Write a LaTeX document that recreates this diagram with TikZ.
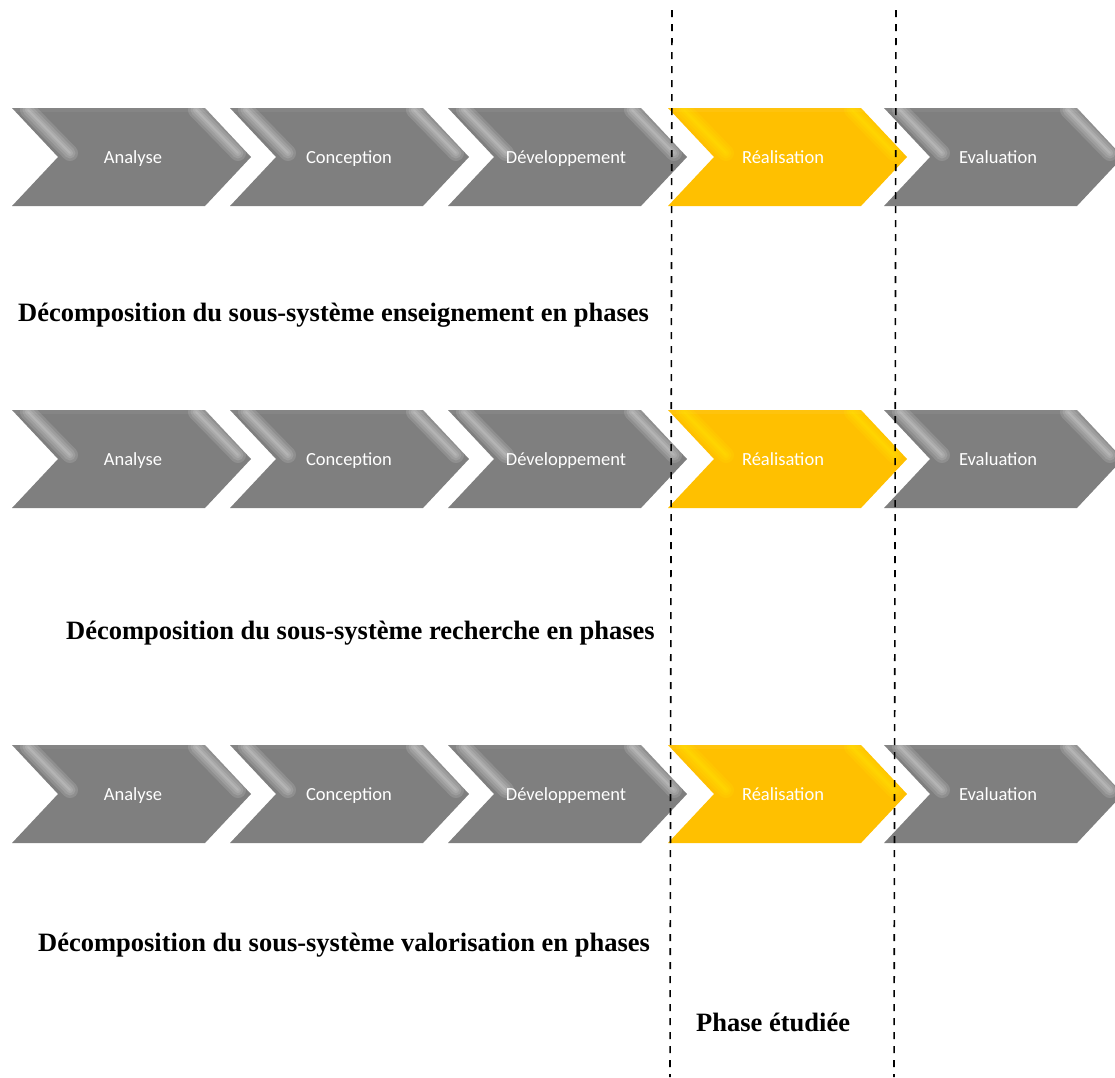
\documentclass[tikz,border=0pt]{standalone}
\usepackage{fontspec}
\newfontfamily\capfont{Liberation Serif}
\newfontfamily\lblfont{Carlito}
\definecolor{chgray}{HTML}{7F7F7F}
\definecolor{chyel}{HTML}{FFC000}
\definecolor{hlyel}{HTML}{FFF200}
\newcommand\mychev[4]{%
  \begin{scope}
    \path[fill=#3] ({#1},{#2-49}) -- ++(193,0) -- ++(46,49) -- ++(-46,49) -- ++(-193,0) -- ++(46,-49) -- cycle;
    \clip ({#1},{#2-49}) -- ++(193,0) -- ++(46,49) -- ++(-46,49) -- ++(-193,0) -- ++(46,-49) -- cycle;
    \fill[white,opacity=0.05] ({#1},{#2-49}) rectangle ({#1+240},{#2-45});
    \foreach \lw in {16,11,6,2}{
      \draw[#4,line width=\lw,opacity=0.13,line cap=round] ({#1+16},{#2-47}) -- ({#1+58},{#2-4});
      \draw[#4,line width=\lw,opacity=0.13,line cap=round] ({#1+184},{#2-47}) -- ({#1+226},{#2-4});
    }
  \end{scope}}
\begin{document}
\begin{tikzpicture}[x=1pt,y=-1pt,
  lbl/.style={text=white,font=\lblfont\fontsize{18.5}{20}\selectfont,inner sep=0pt,anchor=base},
  captxt/.style={font=\capfont\bfseries\fontsize{26.5}{30}\selectfont,inner sep=0pt,anchor=base west},
  guide/.style={black,line width=1.6pt,dash pattern=on 7pt off 7pt}]
\useasboundingbox (0,0) rectangle (1115,1077);
\clip (0,0) rectangle (1115,1077);
\foreach \ry/\rn in {157/1,459/2,794/3}{
  \mychev{12}{\ry}{chgray}{white}
  \mychev{230}{\ry}{chgray}{white}
  \mychev{448}{\ry}{chgray}{white}
  \mychev{884}{\ry}{chgray}{white}
  \draw[white,opacity=0.6,line width=12,line join=miter] (668,\ry-49) -- ++(193,0) -- ++(46,49) -- ++(-46,49) -- ++(-193,0) -- ++(46,-49) -- cycle;
  \draw[white,line width=6,line join=miter] (668,\ry-49) -- ++(193,0) -- ++(46,49) -- ++(-46,49) -- ++(-193,0) -- ++(46,-49) -- cycle;
  \mychev{668}{\ry}{chyel}{hlyel}
  \node[lbl] (a\rn) at (133,\ry+6) {Analyse};
  \node[lbl] (c\rn) at (349,\ry+6) {Conception};
  \node[lbl] (d\rn) at (566,\ry+6) {Développement};
  \node[lbl] (r\rn) at (783,\ry+6) {Réalisation};
  \node[lbl] (e\rn) at (998,\ry+6) {Evaluation};
}
\node[captxt] (cap1) at (18,321) {Décomposition du sous-système enseignement en phases};
\node[captxt] (cap2) at (66,639) {Décomposition du sous-système recherche en phases};
\node[captxt] (cap3) at (38,951) {Décomposition du sous-système valorisation en phases};
\node[captxt] (phase) at (696,1031) {Phase étudiée};
\coordinate (l1) at (672,10);
\coordinate (l2) at (670,1077);
\coordinate (m1) at (896,10);
\coordinate (m2) at (894,1077);
\draw[guide] (l1) -- (l2);
\draw[guide] (m1) -- (m2);
\end{tikzpicture}
\end{document}
